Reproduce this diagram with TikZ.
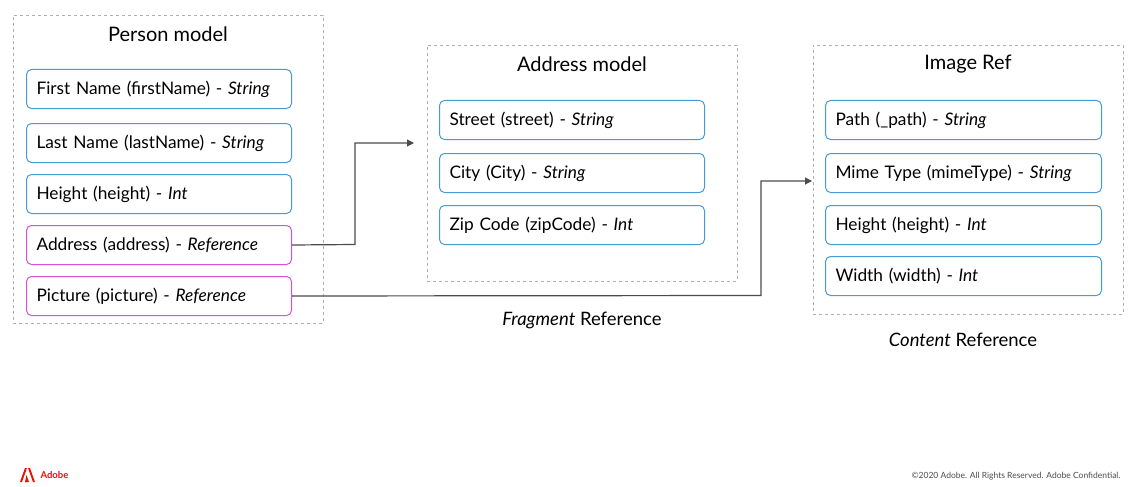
\documentclass[tikz,border=0pt]{standalone}
\usepackage{fontspec}
\setmainfont{Lato}
\usetikzlibrary{arrows.meta}
\definecolor{fblue}{RGB}{70,155,215}
\definecolor{fmag}{RGB}{215,80,215}
\definecolor{dash}{RGB}{175,175,175}
\definecolor{adred}{RGB}{235,16,0}
\begin{document}
\begin{tikzpicture}[x=1pt,y=-1pt,
 grp/.style={draw=dash,dashed,line width=0.8pt},
 fld/.style={draw=fblue,rounded corners=5pt,line width=1pt,anchor=north west,minimum height=39pt,text width=#1,inner xsep=10pt,align=left,font=\fontsize{17.3}{19}\selectfont},
 fld/.default=245pt,
 ref/.style={fld,draw=fmag},
 ttl/.style={font=\fontsize{20}{23}\selectfont},
 capt/.style={font=\fontsize{18.5}{21}\selectfont},
 conn/.style={draw=black!70,line width=1.2pt,-{Triangle[length=7pt,width=7pt]}}]
\useasboundingbox (0,0) rectangle (1144,487);
% Person
\node[grp,minimum width=310pt,minimum height=308pt,anchor=north west] (pg) at (13,15) {};
\node[ttl] (pt) at (168,34) {Person model};
\node[fld] (p1) at (26,69) {First Name (firstName) - \textit{String}};
\node[fld] (p2) at (26,123) {Last Name (lastName) - \textit{String}};
\node[fld] (p3) at (26,174) {Height (height) - \textit{Int}};
\node[ref] (p4) at (26,225) {Address (address) - \textit{Reference}};
\node[ref] (p5) at (26,276) {Picture (picture) - \textit{Reference}};
% Address
\node[grp,minimum width=310pt,minimum height=236pt,anchor=north west] (ag) at (427,45) {};
\node[ttl] (at) at (582,64) {Address model};
\node[fld] (a1) at (439,100) {Street (street) - \textit{String}};
\node[fld] (a2) at (439,153) {City (City) - \textit{String}};
\node[fld] (a3) at (439,205) {Zip Code (zipCode) - \textit{Int}};
\node[capt] (ac) at (582,320) {\textit{Fragment} Reference};
% Image
\node[grp,minimum width=310pt,minimum height=269pt,anchor=north west] (ig) at (813,45) {};
\node[ttl] (it) at (968,64) {Image Ref};
\node[fld=256pt] (i1) at (825,100) {Path (\_path) - \textit{String}};
\node[fld=256pt] (i2) at (825,153) {Mime Type (mimeType) - \textit{String}};
\node[fld=256pt] (i3) at (825,205) {Height (height) - \textit{Int}};
\node[fld=256pt] (i4) at (825,256) {Width (width) - \textit{Int}};
\node[capt] (ic) at (963,340) {\textit{Content} Reference};
% connectors
\coordinate (t1) at (414,143);
\coordinate (t2) at (812,181);
\draw[conn] (p4.east) -- (355,244.5) |- (t1);
\draw[conn] (p5.east) -- (761,295.5) |- (t2);
% footer
\fill[adred] (20,482) -- (25,468) -- (27,468) -- (22,482) -- cycle;
\fill[adred] (33,482) -- (28,468) -- (30,468) -- (35,482) -- cycle;
\fill[adred] (26.5,475) -- (29,482) -- (25,482) -- cycle;
\node[anchor=west,text=adred,font=\bfseries\fontsize{9.5}{11}\selectfont] (al) at (37,475) {Adobe};
\node[anchor=east,text=black!70,font=\fontsize{8.5}{10}\selectfont] (cr) at (1124,476) {©2020 Adobe. All Rights Reserved. Adobe Confidential.};
\end{tikzpicture}
\end{document}
